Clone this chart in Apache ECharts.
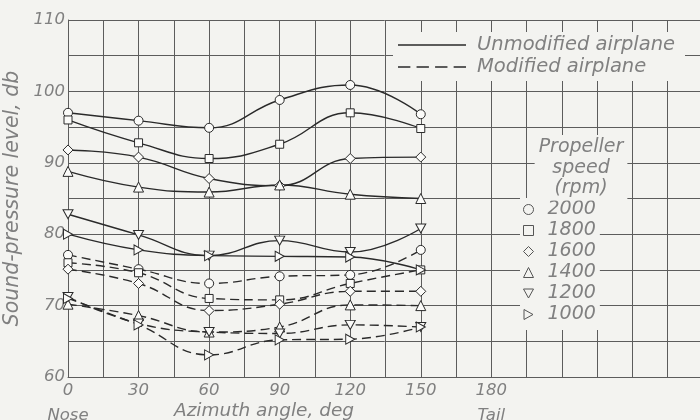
<!DOCTYPE html>
<html>
<head>
<meta charset="utf-8">
<script src="https://cdn.jsdelivr.net/npm/echarts@6/dist/echarts.min.js"></script>
<style>
html,body{margin:0;padding:0;background:#f3f3f0;}
#c{width:700px;height:420px;}
</style>
</head>
<body>
<div id="c"></div>
<script>
// ---- data ----
const angles = [0, 30, 60, 90, 120, 150];
const speeds = ['2000', '1800', '1600', '1400', '1200', '1000'];
const unmodified2000 = [97, 95.9, 94.9, 98.8, 100.9, 96.8];
const unmodified1800 = [96, 92.8, 90.6, 92.6, 97, 94.8];
const unmodified1600 = [91.8, 90.8, 87.8, 86.8, 90.6, 90.8];
const unmodified1400 = [88.8, 86.6, 85.9, 86.9, 85.6, 85];
const unmodified1200 = [82.8, 79.9, 77, 79.1, 77.5, 80.8];
const unmodified1000 = [80, 77.8, 77, 76.9, 76.8, 75];
const modified2000 = [77.1, 75.1, 73.1, 74.1, 74.3, 77.8];
const modified1800 = [76, 74.6, 71, 70.8, 73.1, 75];
const modified1600 = [75.1, 73.1, 69.3, 70.2, 72, 72];
const modified1400 = [70.2, 68.6, 66.3, 67, 70.1, 70];
const modified1200 = [71.2, 67.5, 66.3, 66.1, 67.3, 67];
const modified1000 = [71, 67.3, 63.1, 65.2, 65.3, 67];
const xTickLabels = {0: '0\nNose', 30: '30', 60: '60', 90: '90', 120: '120', 150: '150', 180: '180\nTail'};
const yTickLabels = [60, 70, 80, 90, 100, 110];

const BG = '#f3f3f0';
const INK = '#2a2a2a';
const GRIDC = '#5c5c5c';
const TXT = '#808080';
const FONT = '"DejaVu Sans", sans-serif';

const symbols = {
  '2000': {s: 'circle', size: 9},
  '1800': {s: 'rect', size: 8},
  '1600': {s: 'diamond', size: 10},
  '1400': {s: 'triangle', size: 10},
  '1200': {s: 'path://M0,0L10,0L5,9Z', size: [10, 9]},
  '1000': {s: 'path://M0,0L9,5L0,10Z', size: [9, 10]}
};

const unmod = [unmodified2000, unmodified1800, unmodified1600, unmodified1400, unmodified1200, unmodified1000];
const mod = [modified2000, modified1800, modified1600, modified1400, modified1200, modified1000];

function pairs(vals) { return angles.map((a, i) => [a, vals[i]]); }

function mkSeries(name, vals, dashed) {
  return {
    type: 'line',
    name: name,
    data: pairs(vals),
    smooth: 0.45,
    symbol: symbols[name].s,
    symbolSize: symbols[name].size,
    showAllSymbol: true,
    lineStyle: {color: INK, width: 1.4, type: dashed ? [9, 5] : 'solid'},
    itemStyle: {color: '#fbfbf9', borderColor: INK, borderWidth: 1},
    z: dashed ? 3 : 4,
    silent: true
  };
}

const series = [];
speeds.forEach((sp, i) => series.push(mkSeries(sp, unmod[i], false)));
speeds.forEach((sp, i) => series.push(mkSeries(sp, mod[i], true)));
series.push({type: 'line', name: 'Unmodified airplane', data: [], itemStyle: {color: INK}, lineStyle: {color: INK}});
series.push({type: 'line', name: 'Modified airplane', data: [], itemStyle: {color: INK}, lineStyle: {color: INK, type: [9, 5]}});

const txt = {fontFamily: FONT, fontStyle: 'italic', fontWeight: 200, color: TXT};

const option = {
  backgroundColor: BG,
  animation: false,
  grid: {left: 68, top: 20, width: 635, height: 357, containLabel: false, outerBoundsMode: 'none'},
  title: [
    {
      text: 'Propeller\nspeed\n(rpm)',
      left: 577, top: 135, textAlign: 'center',
      backgroundColor: BG, padding: [2, 4, 2, 4],
      textStyle: Object.assign({}, txt, {fontSize: 19, lineHeight: 20.5})
    },
    {
      text: 'Azimuth angle, deg',
      left: 174, top: 402, padding: 0,
      textStyle: Object.assign({}, txt, {fontSize: 18.5})
    }
  ],
  legend: [
    {
      orient: 'vertical', left: 393, top: 32,
      padding: [3, 10, 4, 5], backgroundColor: BG,
      itemWidth: 68, itemHeight: 1.4, itemGap: 2,
      symbolKeepAspect: false, selectedMode: false,
      textStyle: Object.assign({}, txt, {fontSize: 19.5, lineHeight: 18, padding: [0, 0, 0, 6]}),
      data: [
        {name: 'Unmodified airplane', icon: 'rect'},
        {name: 'Modified airplane', icon: 'path://M0,0h12v1h-12z M18,0h12v1h-12z M36,0h12v1h-12z M54,0h12v1h-12z'}
      ]
    },
    {
      orient: 'vertical', left: 520, top: 198,
      padding: [2, 4, 6, 3], backgroundColor: BG,
      itemWidth: 10, itemHeight: 10, itemGap: 2,
      selectedMode: false,
      itemStyle: {color: BG, borderColor: '#555', borderWidth: 1},
      textStyle: Object.assign({}, txt, {fontSize: 19, lineHeight: 18, padding: [0, 0, 0, 9]}),
      data: speeds.map(sp => ({name: sp, icon: symbols[sp].s}))
    }
  ],
  xAxis: {
    type: 'value', min: 0, max: 270, interval: 15,
    axisLine: {show: true, lineStyle: {color: GRIDC, width: 1}},
    axisTick: {show: false},
    splitLine: {show: true, lineStyle: {color: GRIDC, width: 1}},
    axisLabel: Object.assign({}, txt, {
      fontSize: 16.5, lineHeight: 25, margin: 1,
      formatter: v => (xTickLabels[v] !== undefined ? xTickLabels[v] : '')
    })
  },
  yAxis: {
    type: 'value', min: 60, max: 110, interval: 5,
    name: 'Sound-pressure level, db', nameLocation: 'middle', nameGap: 40, nameRotate: 90,
    nameTextStyle: Object.assign({}, txt, {fontSize: 20.5}),
    axisLine: {show: true, lineStyle: {color: GRIDC, width: 1}},
    axisTick: {show: false},
    splitLine: {show: true, lineStyle: {color: GRIDC, width: 1}},
    axisLabel: Object.assign({}, txt, {
      fontSize: 16.5, margin: 3,
      formatter: v => (yTickLabels.indexOf(v) >= 0 ? String(v) : '')
    })
  },
  series: series
};

const chart = echarts.init(document.getElementById('c'), null, {renderer: 'canvas'});
chart.setOption(option);
</script>
</body>
</html>
